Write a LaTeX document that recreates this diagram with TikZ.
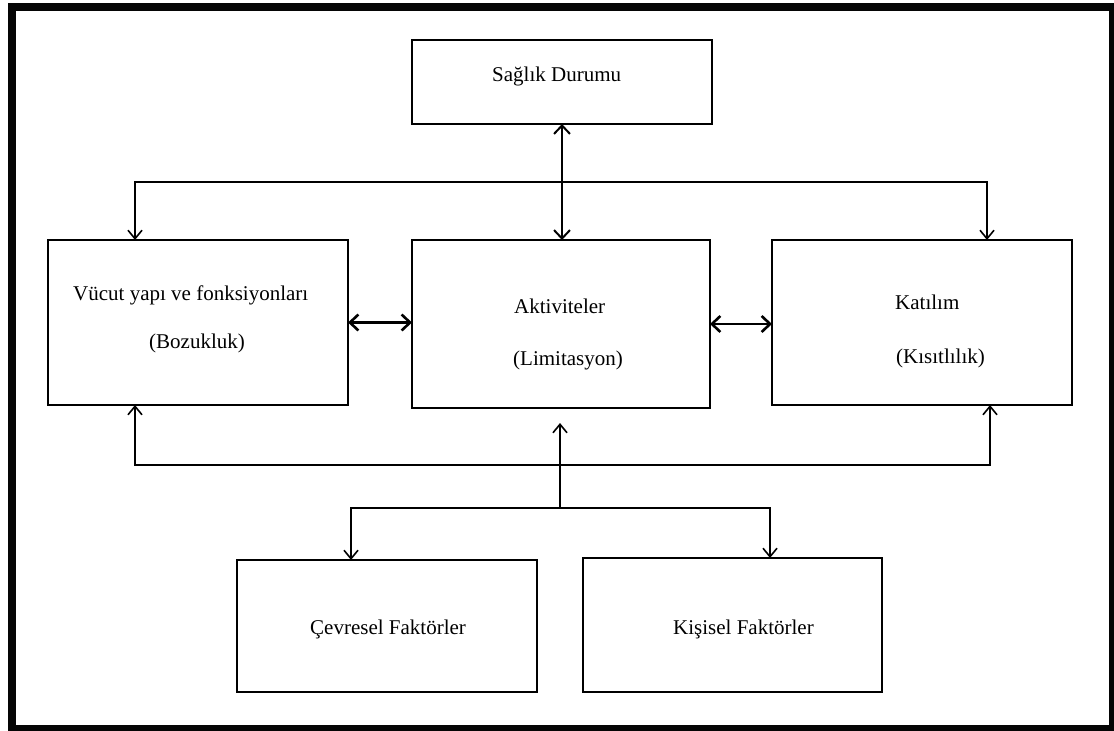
\documentclass[tikz,border=0pt]{standalone}
\usepackage{fontspec}
\setmainfont{Liberation Serif}
\usepackage{xcolor}
\definecolor{frame-black}{HTML}{050505}
\usetikzlibrary{arrows.meta}

\tikzset{
  box/.style={draw, line width=1.6pt, rectangle, outer sep=0pt, inner sep=0pt},
  boxtext/.style={anchor=base west, inner sep=0pt, font=\fontsize{21}{25}\selectfont},
  link/.style={line width=1.6pt, >={Straight Barb[length=8.5pt,width=14pt]}},
  bilink/.style={line width=2.6pt, <->, >={Straight Barb[length=8.5pt,width=16pt]}}
}

\begin{document}
\begin{tikzpicture}[x=1pt, y=-1pt]

    \useasboundingbox (0, 0) rectangle (1114, 731);

    % Frame
    \fill[frame-black] (8, 3) rectangle (1114, 731);
    \fill[white] (16, 11) rectangle (1109, 725);

    % Boxes
    \node[box, minimum width=300, minimum height=84] (saglik) at (562, 82) {};
    \node[box, minimum width=300, minimum height=165] (vucut) at (198, 322.5) {};
    \node[box, minimum width=298, minimum height=168] (akt) at (561, 324) {};
    \node[box, line width=2.6pt, minimum width=300, minimum height=165] (kat) at (922, 322.5) {};
    \node[box, minimum width=300, minimum height=132] (cevre) at (387, 626) {};
    \node[box, minimum width=299, minimum height=134] (kisi) at (732.5, 625) {};

    % Texts
    \node[boxtext] (saglikT) at (492, 81) {Sağlık Durumu};
    \node[boxtext] (vucutT) at (73, 300) {Vücut yapı ve fonksiyonları};
    \node[boxtext] (vucutS) at (149, 348) {(Bozukluk)};
    \node[boxtext] (aktT) at (514, 313) {Aktiviteler};
    \node[boxtext] (aktS) at (513, 365) {(Limitasyon)};
    \node[boxtext] (katT) at (895, 309) {Katılım};
    \node[boxtext] (katS) at (896, 363) {(Kısıtlılık)};
    \node[boxtext] (cevreT) at (310, 634) {Çevresel Faktörler};
    \node[boxtext] (kisiT) at (673, 634) {Kişisel Faktörler};

    % Bus points
    \coordinate (topL) at (135, 182);
    \coordinate (topR) at (987, 182);
    \coordinate (botL) at (135, 465);
    \coordinate (botR) at (990, 465);
    \coordinate (forkM) at (560, 508);
    \coordinate (forkL) at (351, 508);
    \coordinate (forkR) at (770, 508);
    \coordinate (aktIn) at (560, 423);

    % Connectors
    \draw[bilink, line width=2pt] (saglik.south) -- (saglik.south |- akt.north);
    \draw[link, <->] (topL |- vucut.north) -- (topL) -- (topR) -- (topR |- kat.north);
    \draw[link, <->] (botL |- vucut.south) -- (botL) -- (botR) -- (botR |- kat.south);
    \draw[bilink] (vucut.east) -- (vucut.east -| akt.west);
    \draw[bilink] (akt.east) -- (akt.east -| kat.west);
    \draw[link, ->] (forkM) -- (aktIn);
    \draw[link, <->] (forkL |- cevre.north) -- (forkL) -- (forkR) -- (forkR |- kisi.north);

\end{tikzpicture}
\end{document}
